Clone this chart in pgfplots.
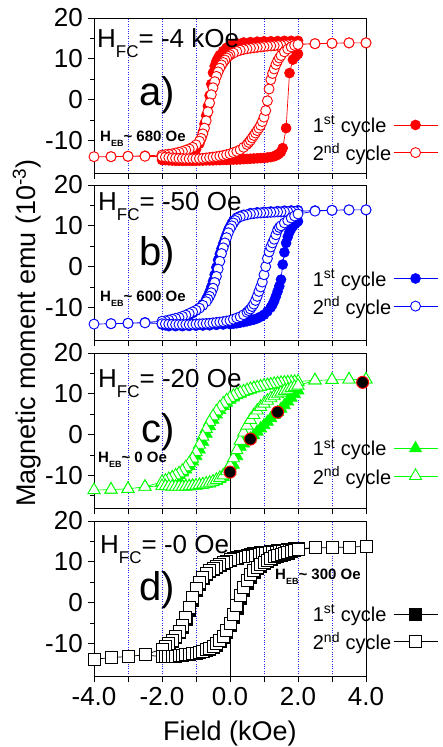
\documentclass[border=0pt]{standalone}
\usepackage{fontspec}
\setmainfont{Liberation Sans}
\usepackage{pgfplots}
\pgfplotsset{compat=1.18}
\definecolor{cred}{RGB}{255,0,0}
\definecolor{cblue}{RGB}{0,0,255}
\definecolor{cgreen}{RGB}{0,255,0}
\newcommand{\fs}[1]{\fontsize{#1}{#1}\selectfont}
\newcommand{\subFC}[1]{\raisebox{-0.42em}{\fs{17}#1}}
\newcommand{\subEB}[1]{\raisebox{-0.35em}{\fs{9}#1}}
\pgfplotsset{
 panel/.style={
  scale only axis, width=272pt, height=155pt, anchor=north west,
  xmin=-4,xmax=4,ymin=-18,ymax=20,
  xtick={-4,-3,...,4}, xticklabels={},
  ytick={-10,0,10,20}, yticklabels={-10,0,10,20},
  minor ytick={-15,-5,5,15},
  tick align=outside, xtick pos=bottom, ytick pos=left,
  major tick length=6pt, minor tick length=3.5pt,
  tick style={black, line width=0.8pt},
  axis line style={line width=0.9pt},
  xmajorgrids, grid style={blue!85, dotted, line width=0.45pt},
  ticklabel style={font=\fs{26}, inner sep=0pt},
  yticklabel style={xshift=-5pt},
  xticklabel style={yshift=-5pt},
  legend plot pos=right,
  legend cell align=left,
  legend style={draw=none, fill=none, font=\fs{20}, anchor=east, inner sep=0pt, row sep=5pt},
  legend image code/.code={\draw[mark repeat=2,mark phase=2,##1] plot coordinates {(0pt,0pt) (22pt,0pt) (44pt,0pt)};},
 },
 filledS/.style 2 args={color=#1, line width=0.7pt, mark=#2, mark options={solid, fill=#1, line width=0.6pt}},
 openS/.style 2 args={color=#1, line width=0.7pt, mark=#2, mark options={solid, fill=white, line width=0.9pt}},
}
\begin{document}
\begin{tikzpicture}
\useasboundingbox (0,0) rectangle (443pt,-747pt);
% ---------------- panel a
\begin{axis}[panel, at={(94pt,-18pt)}, legend style={at={(1.265,0.219)}}]
\draw[black, line width=1pt] (axis cs:0,-18) -- (axis cs:0,20);
\addplot[filledS={cred}{*}, mark size=5pt] coordinates {
(2.0,14.4) (1.8,14.4) (1.6,14.4) (1.4,14.35) (1.2,14.3) (1.0,14.3) (0.8,14.2) (0.6,14.1) (0.4,14.0) (0.2,13.8) (0.1,13.6) (0,13.3) (-0.1,12.7) (-0.2,11.9) (-0.3,10.9) (-0.35,10.2) (-0.4,9.4) (-0.45,8.2) (-0.5,6.6) (-0.55,3.8) (-0.6,1.0) (-0.65,-1.6) (-0.7,-3.9) (-0.75,-6.0) (-0.8,-8.0) (-0.85,-9.6) (-0.9,-10.8) (-1.0,-12.2) (-1.1,-13.0) (-1.2,-13.5) (-1.3,-13.8) (-1.4,-14.0) (-1.5,-14.2) (-1.6,-14.4) (-1.7,-14.5) (-1.8,-14.6) (-1.9,-14.7) (-2.0,-14.8)
(-1.9,-14.85) (-1.8,-14.9) (-1.7,-14.95) (-1.6,-15.0) (-1.5,-15.0) (-1.4,-15.0) (-1.3,-15.0) (-1.2,-15.0) (-1.1,-15.0) (-1.0,-15.0) (-0.9,-14.95) (-0.8,-14.95) (-0.7,-14.9) (-0.6,-14.9) (-0.5,-14.9) (-0.4,-14.85) (-0.3,-14.85) (-0.2,-14.8) (-0.1,-14.8) (0,-14.75) (0.1,-14.7) (0.2,-14.7) (0.3,-14.65) (0.4,-14.6) (0.5,-14.55) (0.6,-14.5) (0.7,-14.45) (0.8,-14.4) (0.9,-14.35) (1.0,-14.3) (1.1,-14.2) (1.2,-14.1) (1.3,-13.9) (1.35,-13.7) (1.4,-13.5) (1.45,-13.2) (1.5,-12.8) (1.55,-11.9) (1.65,-7.0) (1.75,6.5) (1.85,9.8) (1.95,10.8) (2.0,11.2)
};
\addlegendentry{1\textsuperscript{st} cycle}
\addplot[openS={cred}{*}, mark size=5pt] coordinates {
(4,13.9) (3.5,13.9) (3,13.8) (2.5,13.7) (2.0,13.6) (1.9,13.55) (1.8,13.5) (1.7,13.45) (1.6,13.4) (1.5,13.35) (1.4,13.3) (1.3,13.2) (1.2,13.15) (1.1,13.1) (1.0,13.0) (0.9,12.9) (0.8,12.8) (0.7,12.7) (0.6,12.6) (0.5,12.45) (0.4,12.3) (0.3,12.1) (0.2,11.8) (0.1,11.4) (0,11.0) (-0.05,10.6) (-0.1,10.2) (-0.15,9.7) (-0.2,9.1) (-0.25,8.5) (-0.3,7.7) (-0.35,6.8) (-0.4,5.7) (-0.45,4.4) (-0.5,2.9) (-0.55,1.2) (-0.6,-0.8) (-0.65,-3.0) (-0.7,-5.2) (-0.75,-7.0) (-0.8,-8.4) (-0.85,-9.5) (-0.9,-10.2) (-1.0,-11.1) (-1.1,-11.7) (-1.2,-12.1) (-1.3,-12.4) (-1.4,-12.7) (-1.5,-12.9) (-1.6,-13.1) (-1.7,-13.3) (-1.8,-13.4) (-1.9,-13.5) (-2.0,-13.6) (-2.5,-13.8) (-3,-13.9) (-3.5,-14.0) (-4,-14.0)
(-3.5,-14.0) (-3,-13.9) (-2.5,-13.9) (-2.0,-14.0) (-1.9,-14.1) (-1.8,-14.2) (-1.7,-14.3) (-1.6,-14.35) (-1.5,-14.4) (-1.4,-14.45) (-1.3,-14.5) (-1.2,-14.5) (-1.1,-14.5) (-1.0,-14.5) (-0.9,-14.45) (-0.8,-14.4) (-0.7,-14.3) (-0.6,-14.2) (-0.5,-14.1) (-0.4,-14.0) (-0.3,-13.85) (-0.2,-13.7) (-0.1,-13.5) (0,-13.3) (0.1,-13.0) (0.2,-12.7) (0.3,-12.3) (0.4,-11.7) (0.5,-11.0) (0.55,-10.5) (0.6,-10.0) (0.65,-9.4) (0.7,-8.8) (0.75,-8.2) (0.8,-7.6) (0.85,-7.0) (0.9,-6.3) (0.95,-5.4) (1.0,-4.3) (1.05,-2.7) (1.1,-0.3) (1.15,2.6) (1.2,4.9) (1.25,6.4) (1.3,7.5) (1.35,8.6) (1.4,9.5) (1.45,10.2) (1.5,10.8) (1.6,11.7) (1.7,12.4) (1.8,12.9) (1.9,13.3) (2.0,13.5) (2.5,13.7) (3,13.8) (3.5,13.9) (4,13.9)
};
\addlegendentry{2\textsuperscript{nd} cycle}
\end{axis}
% ---------------- panel b
\begin{axis}[panel, at={(94pt,-185pt)}, legend style={at={(1.265,0.306)}}]
\draw[black, line width=1pt] (axis cs:0,-18) -- (axis cs:0,20);
\addplot[filledS={cblue}{*}, mark size=5pt] coordinates {
(2.0,13.8) (1.8,13.75) (1.6,13.7) (1.4,13.6) (1.2,13.5) (1.0,13.4) (0.8,13.3) (0.6,13.1) (0.4,12.7) (0.3,12.4) (0.2,12.0) (0.1,11.3) (0.05,10.6) (0,9.8) (-0.05,9.0) (-0.1,7.9) (-0.15,6.8) (-0.2,5.6) (-0.25,4.4) (-0.3,3.1) (-0.35,1.6) (-0.4,-0.2) (-0.45,-2.0) (-0.5,-3.6) (-0.55,-5.0) (-0.6,-6.2) (-0.65,-7.2) (-0.7,-8.0) (-0.8,-9.2) (-0.9,-10.1) (-1.0,-10.8) (-1.1,-11.4) (-1.2,-11.9) (-1.3,-12.3) (-1.4,-12.7) (-1.5,-13.0) (-1.6,-13.3) (-1.7,-13.6) (-1.8,-13.8) (-1.9,-14.0) (-2.0,-14.2)
(-1.9,-14.4) (-1.8,-14.6) (-1.6,-14.6) (-1.4,-14.6) (-1.2,-14.55) (-1.0,-14.5) (-0.8,-14.45) (-0.6,-14.4) (-0.4,-14.3) (-0.2,-14.2) (0,-14.1) (0.1,-14.0) (0.2,-13.9) (0.3,-13.75) (0.4,-13.6) (0.5,-13.4) (0.6,-13.2) (0.7,-13.0) (0.8,-12.7) (0.9,-12.3) (1.0,-11.8) (1.1,-11.0) (1.2,-10.0) (1.25,-9.3) (1.3,-8.4) (1.35,-7.3) (1.4,-6.1) (1.45,-4.8) (1.5,-3.2) (1.55,0.5) (1.6,3.5) (1.65,5.8) (1.7,7.3) (1.75,8.5) (1.8,9.3) (1.85,9.9) (1.9,10.4) (1.95,10.8) (2.0,11.1)
};
\addlegendentry{1\textsuperscript{st} cycle}
\addplot[openS={cblue}{*}, mark size=5pt] coordinates {
(4,13.9) (3.5,13.9) (3,13.8) (2.5,13.7) (2.0,13.6) (1.9,13.55) (1.8,13.5) (1.7,13.45) (1.6,13.45) (1.5,13.4) (1.4,13.4) (1.3,13.35) (1.2,13.3) (1.1,13.25) (1.0,13.2) (0.9,13.15) (0.8,13.1) (0.7,13.0) (0.6,12.9) (0.5,12.7) (0.4,12.5) (0.3,12.2) (0.2,11.8) (0.15,11.3) (0.1,10.7) (0.05,10.0) (0,9.3) (-0.05,8.3) (-0.1,7.1) (-0.15,5.8) (-0.2,4.6) (-0.25,3.2) (-0.3,1.3) (-0.35,-0.6) (-0.4,-2.4) (-0.45,-3.9) (-0.5,-5.3) (-0.55,-6.4) (-0.6,-7.3) (-0.65,-8.0) (-0.7,-8.6) (-0.8,-9.5) (-0.9,-10.2) (-1.0,-10.7) (-1.1,-11.1) (-1.2,-11.5) (-1.3,-11.9) (-1.4,-12.2) (-1.5,-12.5) (-1.6,-12.7) (-1.7,-12.9) (-1.8,-13.1) (-1.9,-13.3) (-2.0,-13.4) (-2.5,-13.7) (-3,-13.9) (-3.5,-14.0) (-4,-14.1)
(-3.5,-14.0) (-3,-13.9) (-2.5,-13.8) (-2.0,-14.0) (-1.9,-14.05) (-1.8,-14.1) (-1.7,-14.15) (-1.6,-14.2) (-1.5,-14.2) (-1.4,-14.2) (-1.3,-14.2) (-1.2,-14.2) (-1.1,-14.15) (-1.0,-14.1) (-0.9,-14.05) (-0.8,-14.0) (-0.7,-13.95) (-0.6,-13.9) (-0.5,-13.8) (-0.4,-13.7) (-0.3,-13.6) (-0.2,-13.5) (-0.1,-13.35) (0,-13.2) (0.1,-12.9) (0.2,-12.6) (0.3,-12.3) (0.4,-11.8) (0.5,-11.2) (0.55,-10.8) (0.6,-10.4) (0.65,-9.8) (0.7,-9.2) (0.75,-8.3) (0.8,-7.3) (0.85,-6.1) (0.9,-5.0) (0.95,-3.8) (1.0,-2.0) (1.05,0.0) (1.1,2.0) (1.15,3.6) (1.2,4.8) (1.25,5.8) (1.3,6.7) (1.35,7.8) (1.4,9.0) (1.45,9.6) (1.5,10.0) (1.6,10.7) (1.7,11.3) (1.8,11.9) (1.9,12.4) (2.0,12.9) (2.5,13.6) (3,13.8) (3.5,13.9) (4,13.9)
};
\addlegendentry{2\textsuperscript{nd} cycle}
\end{axis}
% ---------------- panel c
\begin{axis}[panel, at={(94pt,-353pt)}, legend style={at={(1.265,0.294)}}]
\draw[black, line width=1pt] (axis cs:0,-18) -- (axis cs:0,20);
\addplot[filledS={cgreen}{triangle*}, mark size=7pt] coordinates {
(2.0,12.8) (1.9,12.75) (1.8,12.7) (1.7,12.6) (1.6,12.55) (1.5,12.5) (1.4,12.4) (1.3,12.3) (1.2,12.15) (1.1,12.0) (1.0,11.9) (0.9,11.7) (0.8,11.5) (0.7,11.3) (0.6,11.0) (0.5,10.7) (0.4,10.4) (0.3,10.0) (0.2,9.6) (0.1,9.1) (0,8.5) (-0.1,7.8) (-0.2,7.0) (-0.3,6.0) (-0.4,4.9) (-0.5,3.6) (-0.6,2.0) (-0.7,0.2) (-0.8,-1.8) (-0.9,-3.7) (-1.0,-5.3) (-1.1,-6.6) (-1.2,-7.7) (-1.3,-8.6) (-1.4,-9.3) (-1.5,-9.9) (-1.6,-10.4) (-1.7,-10.8) (-1.8,-11.2) (-1.9,-11.5) (-2.0,-11.8)
(-1.9,-12.0) (-1.8,-12.2) (-1.7,-12.35) (-1.6,-12.5) (-1.5,-12.55) (-1.4,-12.6) (-1.3,-12.6) (-1.2,-12.6) (-1.1,-12.55) (-1.0,-12.5) (-0.9,-12.4) (-0.8,-12.3) (-0.7,-12.15) (-0.6,-12.0) (-0.5,-11.7) (-0.4,-11.4) (-0.3,-10.9) (-0.2,-10.4) (-0.1,-9.7) (0,-8.9) (0.1,-7.4) (0.2,-5.3) (0.3,-3.0) (0.4,-2.2) (0.5,-1.6) (0.6,-1.0) (0.7,-0.2) (0.8,0.7) (0.9,1.5) (1.0,2.3) (1.1,3.1) (1.2,4.0) (1.3,4.8) (1.4,5.5) (1.5,6.3) (1.6,7.2) (1.7,8.1) (1.8,9.0) (1.9,9.9) (2.0,10.8)
};
\addlegendentry{1\textsuperscript{st} cycle}
\addplot[openS={cgreen}{triangle*}, mark size=7pt] coordinates {
(4,13.5) (3.5,13.5) (3,13.4) (2.5,13.3) (2.0,13.0) (1.9,12.95) (1.8,12.9) (1.7,12.8) (1.6,12.75) (1.5,12.7) (1.4,12.6) (1.3,12.45) (1.2,12.3) (1.1,12.15) (1.0,12.0) (0.9,11.8) (0.8,11.6) (0.7,11.4) (0.6,11.2) (0.5,10.9) (0.4,10.6) (0.3,10.3) (0.2,9.9) (0.1,9.5) (0,9.0) (-0.1,8.4) (-0.2,7.6) (-0.3,6.7) (-0.4,5.7) (-0.5,4.5) (-0.6,3.1) (-0.7,1.4) (-0.8,-0.5) (-0.9,-2.5) (-1.0,-4.3) (-1.1,-5.9) (-1.2,-7.0) (-1.3,-8.0) (-1.4,-8.9) (-1.5,-9.5) (-1.6,-10.0) (-1.7,-10.5) (-1.8,-10.9) (-1.9,-11.3) (-2.0,-11.6) (-2.5,-12.8) (-3,-13.3) (-3.5,-13.5) (-4,-13.6)
(-3.5,-13.5) (-3,-13.3) (-2.5,-12.8) (-2.0,-12.6) (-1.9,-12.65) (-1.8,-12.7) (-1.7,-12.75) (-1.6,-12.8) (-1.5,-12.8) (-1.4,-12.8) (-1.3,-12.75) (-1.2,-12.7) (-1.1,-12.6) (-1.0,-12.5) (-0.9,-12.35) (-0.8,-12.2) (-0.7,-12.0) (-0.6,-11.8) (-0.5,-11.5) (-0.4,-11.1) (-0.3,-10.6) (-0.2,-10.0) (-0.1,-9.0) (0,-7.6) (0.1,-5.8) (0.2,-3.8) (0.3,-1.5) (0.4,0.5) (0.5,2.2) (0.6,3.6) (0.7,4.8) (0.8,5.9) (0.9,6.8) (1.0,7.6) (1.1,8.3) (1.2,8.9) (1.3,9.4) (1.4,9.9) (1.5,10.3) (1.6,10.7) (1.7,11.0) (1.8,11.4) (1.9,11.7) (2.0,12.0) (2.5,13.3) (3,13.4) (3.5,13.5) (4,13.5)
};
\addlegendentry{2\textsuperscript{nd} cycle}
\addplot[only marks, mark=*, mark size=6pt, mark options={fill=black, draw=cred, line width=1pt}, forget plot] coordinates {
(0,-9.2) (0.6,-1.1) (1.4,5.5) (3.9,12.8)
};
\end{axis}
% ---------------- panel d
\begin{axis}[panel, at={(94pt,-521pt)}, legend style={at={(1.265,0.31)}},
  xticklabels={-4.0,,-2.0,,0.0,,2.0,,4.0}]
\draw[black, line width=1pt] (axis cs:0,-18) -- (axis cs:0,20);
\addplot[filledS={black}{square*}, mark size=6pt] coordinates {
(2.0,13.25) (1.8,13.05) (1.6,12.85) (1.4,12.65) (1.2,12.45) (1.0,12.25) (0.8,12.05) (0.6,11.75) (0.4,11.35) (0.2,10.9) (0,10.4) (-0.1,10.1) (-0.2,9.7) (-0.3,9.25) (-0.4,8.75) (-0.5,8.2) (-0.6,7.6) (-0.7,6.85) (-0.8,5.9) (-0.9,4.6) (-1.0,2.9) (-1.1,0.6) (-1.2,-1.8) (-1.3,-4.1) (-1.4,-6.0) (-1.5,-7.4) (-1.6,-8.6) (-1.7,-9.5) (-1.8,-10.3) (-1.9,-10.9) (-2.0,-11.5)
(-1.9,-12.8) (-1.8,-13.1) (-1.6,-13.05) (-1.4,-12.9) (-1.2,-12.75) (-1.0,-12.45) (-0.8,-12.0) (-0.7,-11.7) (-0.6,-11.35) (-0.5,-10.9) (-0.4,-10.35) (-0.3,-9.6) (-0.2,-8.6) (-0.1,-7.3) (0,-5.6) (0.1,-3.6) (0.2,-1.3) (0.3,1.0) (0.4,3.1) (0.5,4.8) (0.6,6.3) (0.7,7.4) (0.8,8.3) (0.9,9.0) (1.0,9.6) (1.1,10.1) (1.2,10.6) (1.3,11.0) (1.4,11.35) (1.5,11.65) (1.6,11.95) (1.7,12.2) (1.8,12.5) (1.9,12.7) (2.0,12.95)
};
\addlegendentry{1\textsuperscript{st} cycle}
\addplot[openS={black}{square*}, mark size=6pt] coordinates {
(4,13.8) (3.5,13.6) (3,13.5) (2.5,13.4) (2.0,13.3) (1.9,13.2) (1.8,13.1) (1.7,13.0) (1.6,12.9) (1.5,12.8) (1.4,12.7) (1.3,12.6) (1.2,12.5) (1.1,12.4) (1.0,12.3) (0.9,12.2) (0.8,12.1) (0.7,11.95) (0.6,11.8) (0.5,11.6) (0.4,11.4) (0.3,11.2) (0.2,11.0) (0.1,10.75) (0,10.5) (-0.1,10.2) (-0.2,9.8) (-0.3,9.4) (-0.4,8.9) (-0.5,8.4) (-0.6,7.8) (-0.7,7.1) (-0.8,6.2) (-0.9,5.0) (-1.0,3.4) (-1.1,1.2) (-1.2,-1.2) (-1.3,-3.6) (-1.4,-5.6) (-1.5,-7.1) (-1.6,-8.3) (-1.7,-9.3) (-1.8,-10.1) (-1.9,-10.8) (-2.0,-11.4) (-2.5,-12.8) (-3,-13.2) (-3.5,-13.5) (-4,-13.9)
(-3.5,-13.5) (-3,-13.2) (-2.5,-12.8) (-2.0,-13.3) (-1.9,-13.25) (-1.8,-13.2) (-1.7,-13.15) (-1.6,-13.1) (-1.5,-13.0) (-1.4,-12.9) (-1.3,-12.8) (-1.2,-12.7) (-1.1,-12.55) (-1.0,-12.4) (-0.9,-12.15) (-0.8,-11.9) (-0.7,-11.6) (-0.6,-11.2) (-0.5,-10.7) (-0.4,-10.1) (-0.3,-9.3) (-0.2,-8.2) (-0.1,-6.8) (0,-5.0) (0.1,-2.9) (0.2,-0.6) (0.3,1.8) (0.4,3.8) (0.5,5.4) (0.6,6.8) (0.7,7.8) (0.8,8.6) (0.9,9.3) (1.0,9.9) (1.1,10.4) (1.2,10.8) (1.3,11.2) (1.4,11.5) (1.5,11.8) (1.6,12.1) (1.7,12.35) (1.8,12.6) (1.9,12.8) (2.0,13.0) (2.5,13.4) (3,13.5) (3.5,13.6) (4,13.8)
};
\addlegendentry{2\textsuperscript{nd} cycle}
\end{axis}
% ---------------- texts
\node[anchor=base west, inner sep=0pt, font=\fs{26}] at (97pt,-47pt) {H\subFC{FC}= -4 kOe};
\node[anchor=base west, inner sep=0pt, font=\fs{26}] at (98pt,-210pt) {H\subFC{FC}= -50 Oe};
\node[anchor=base west, inner sep=0pt, font=\fs{26}] at (98pt,-387pt) {H\subFC{FC}= -20 Oe};
\node[anchor=base west, inner sep=0pt, font=\fs{26}] at (100pt,-553pt) {H\subFC{FC}= -0 Oe};
\node[inner sep=0pt, font=\fs{40}] at (157pt,-95pt) {a)};
\node[inner sep=0pt, font=\fs{40}] at (157pt,-255pt) {b)};
\node[inner sep=0pt, font=\fs{40}] at (158pt,-432pt) {c)};
\node[inner sep=0pt, font=\fs{40}] at (157pt,-590pt) {d)};
\node[anchor=base west, inner sep=0pt, font=\fs{15}\bfseries] at (100pt,-141pt) {H\subEB{EB}\textasciitilde{} 680 Oe};
\node[anchor=base west, inner sep=0pt, font=\fs{15}\bfseries] at (100pt,-301pt) {H\subEB{EB}\textasciitilde{} 600 Oe};
\node[anchor=base west, inner sep=0pt, font=\fs{15}\bfseries] at (98pt,-462pt) {H\subEB{EB}\textasciitilde{} 0 Oe};
\node[anchor=base west, inner sep=0pt, font=\fs{15}\bfseries] at (275pt,-579pt) {H\subEB{EB}\textasciitilde{} 300 Oe};
\node[rotate=90, anchor=base, inner sep=0pt, font=\fs{27}] at (35pt,-333pt) {Magnetic moment emu (10\textsuperscript{-3})};
\node[anchor=base, inner sep=0pt, font=\fs{27}] at (230pt,-740pt) {Field (kOe)};
\end{tikzpicture}
\end{document}
